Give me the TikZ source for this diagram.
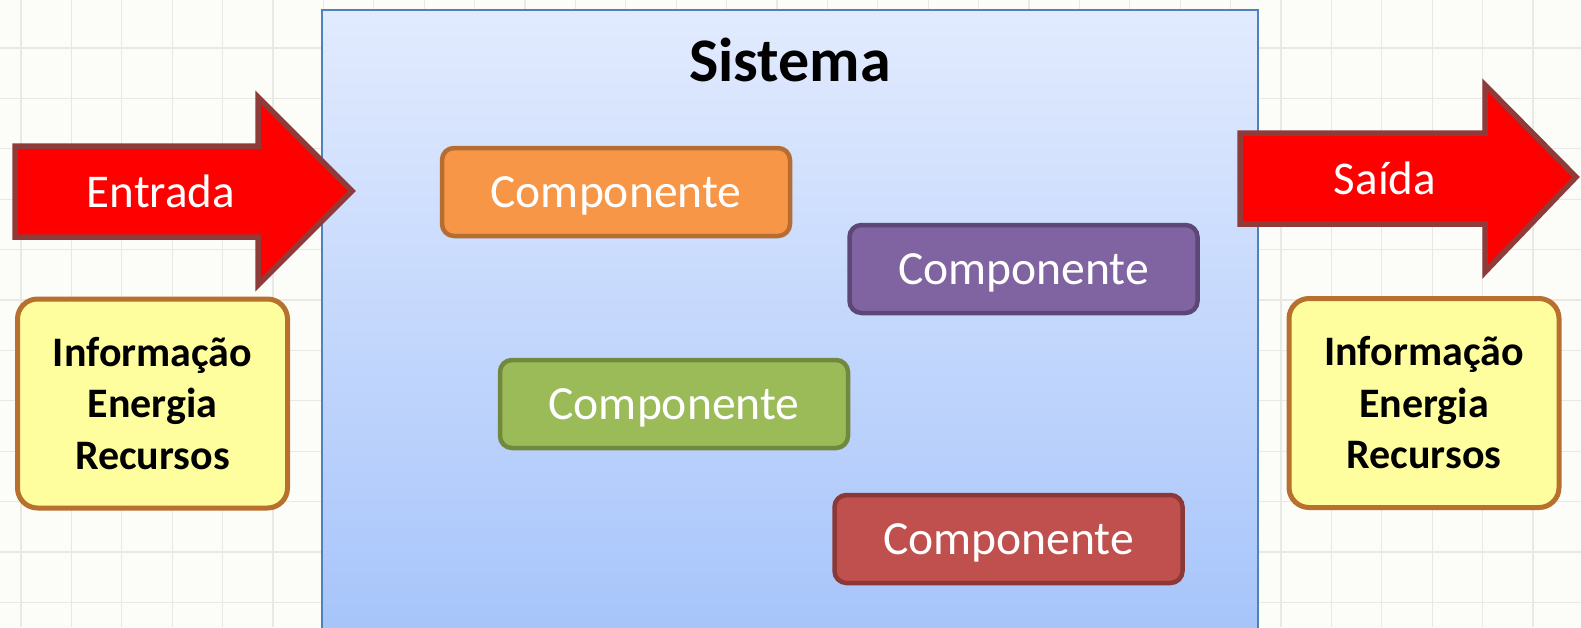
\documentclass[tikz,border=0pt]{standalone}
\usepackage{fontspec}
\setmainfont{Carlito}
\definecolor{bgc}{HTML}{FCFCF8}
\definecolor{gridc}{HTML}{E8E8E4}
\definecolor{sysborder}{HTML}{4F81BD}
\definecolor{systop}{HTML}{E2EBFE}
\definecolor{sysbot}{HTML}{A6C4FA}
\definecolor{arrowfill}{HTML}{FF0000}
\definecolor{arrowborder}{HTML}{8E3B3A}
\definecolor{yelfill}{HTML}{FFFE9E}
\definecolor{yelborder}{HTML}{B8702F}
\definecolor{orfill}{HTML}{F79646}
\definecolor{orborder}{HTML}{B66D31}
\definecolor{pufill}{HTML}{8064A2}
\definecolor{puborder}{HTML}{5C4776}
\definecolor{grfill}{HTML}{9BBB59}
\definecolor{grborder}{HTML}{71893F}
\definecolor{refill}{HTML}{C0504D}
\definecolor{reborder}{HTML}{8C3836}
\tikzset{
  comp/.style={draw, rounded corners=12pt, line width=4.5pt, minimum width=348pt, minimum height=88pt,
    font=\fontsize{47.6}{57}\selectfont, text=white, text height=30.6pt, text depth=0pt, inner sep=0pt},
  yelbox/.style={draw=yelborder, fill=yelfill, rounded corners=20pt, line width=5pt,
    minimum width=270pt, minimum height=209pt, align=center, inner sep=0pt,
    font=\fontsize{42}{51.5}\selectfont\bfseries},
  bigarrow/.style={draw=arrowborder, fill=arrowfill, line width=5.5pt, line join=miter},
  arrowtext/.style={text=white, font=\fontsize{47}{56}\selectfont, text height=30.3pt, text depth=0pt, inner sep=0pt},
}
\begin{document}
\begin{tikzpicture}[x=1pt,y=-1pt]
\useasboundingbox (0,0) rectangle (1581,627);
\fill[bgc] (0,0) rectangle (1581,627);
% grid
\foreach \i in {0,...,31} {
  \draw[gridc, line width=1.3pt] ({21+50.4*\i},0) -- ({21+50.4*\i},627);
}
\foreach \j in {-1,...,12} {
  \draw[gridc, line width=1.3pt] (0,{48+50.4*\j}) -- (1581,{48+50.4*\j});
}
% system box
\shade[top color=systop, bottom color=sysbot] (322,10) rectangle (1258,640);
\draw[sysborder, line width=1.5pt] (322,640) -- (322,10) -- (1258,10) -- (1258,640);
\node[font=\fontsize{62}{74}\selectfont\bfseries, anchor=base] (sistema) at (790,81) {Sistema};
% input arrow
\draw[bigarrow] (15,146) -- (258,146) -- (258,97) -- (352,191) -- (258,285) -- (258,237) -- (15,237) -- cycle;
\node[arrowtext] (entrada) at (161,192) {Entrada};
% output arrow
\draw[bigarrow] (1240,133) -- (1485,133) -- (1485,85) -- (1576,177) -- (1485,272) -- (1485,224) -- (1240,224) -- cycle;
\node[arrowtext] (saida) at (1385,179) {Saída};
% yellow boxes
\node[yelbox] (inbox) at (152.5,403.5) {Informação\\Energia\\Recursos};
\node[yelbox] (outbox) at (1424,403) {Informação\\Energia\\Recursos};
% components
\node[comp, draw=orborder, fill=orfill] (c1) at (616,192) {Componente};
\node[comp, draw=puborder, fill=pufill] (c2) at (1023.5,269) {Componente};
\node[comp, draw=grborder, fill=grfill] (c3) at (674,404) {Componente};
\node[comp, draw=reborder, fill=refill] (c4) at (1008.5,539) {Componente};
\end{tikzpicture}
\end{document}
